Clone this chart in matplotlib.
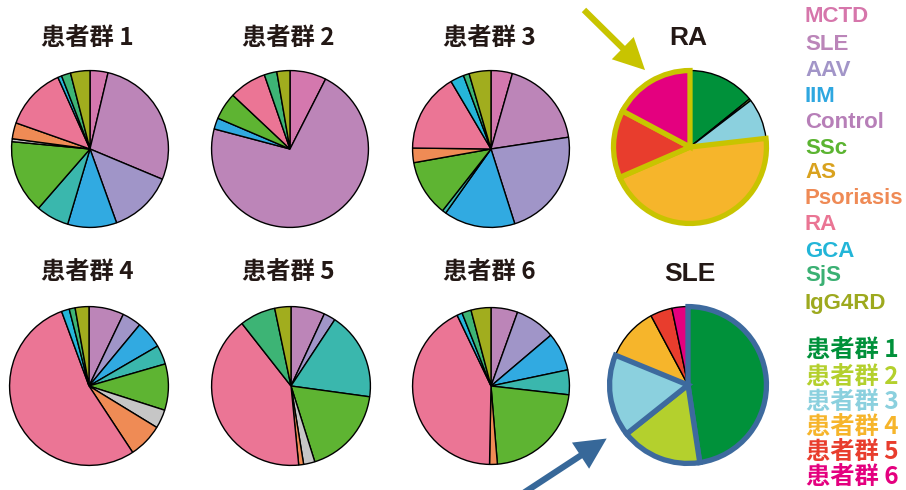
import matplotlib
matplotlib.use("Agg")
import matplotlib.pyplot as plt
from matplotlib import font_manager
from matplotlib.patches import FancyArrowPatch

# diseases, clockwise from 12 o'clock
cats = ['MCTD', 'SLE', 'AAV', 'IIM', 'Control', 'SSc', 'AS', 'Psoriasis', 'RA', 'GCA', 'SjS', 'IgG4RD']
g1 = [3.7, 27.6, 13.2, 10.1, 6.8, 15.1, 0.6, 3.3, 12.9, 0.8, 1.9, 4.0]
g2 = [7.5, 71.7, 0, 2.3, 0, 5.6, 0, 0, 7.7, 0, 2.6, 2.7]
g3 = [4.4, 18.2, 22.5, 14.7, 0.8, 11.6, 0, 3.0, 16.3, 2.8, 1.2, 4.5]
g4 = [0, 7.1, 3.9, 5.6, 3.9, 9.4, 3.8, 7.0, 53.6, 1.6, 1.2, 2.8]
g5 = [0, 6.9, 2.4, 0, 17.9, 18.0, 2.3, 1.0, 41.0, 0, 7.3, 3.3]
g6 = [0, 5.5, 8.3, 7.9, 5.1, 21.9, 0, 1.6, 42.6, 1.1, 1.9, 4.1]

pie_colors = ['#d478ae', '#bc85b8', '#a095c8', '#31aae1', '#3ab7ad', '#5eb432',
              '#c6c6c6', '#ef8b55', '#eb7595', '#25b6d9', '#3db475', '#a1ad1e']
text_colors = ['#d676ab', '#bb85b9', '#a295c8', '#2ea7e0', '#b77fb8', '#5bb431',
               '#d9a21e', '#ef8a55', '#ea7594', '#22b5d8', '#3bb073', '#9da91e']

# patient groups
groups = ['患者群 1', '患者群 2', '患者群 3', '患者群 4', '患者群 5', '患者群 6']
group_colors = ['#00913a', '#b4d02d', '#8bd0de', '#f6b52b', '#e83d2d', '#e4007f']
ra_share = [14.2, 0.4, 8.6, 45.3, 14.3, 17.2]
sle_share = [47.6, 16.7, 16.9, 11.0, 4.5, 3.3]

W, H = 906, 490

names = set(f.name for f in font_manager.fontManager.ttflist)
latin = 'Liberation Sans Narrow' if 'Liberation Sans Narrow' in names else 'Liberation Sans'
cjk = ['Noto Sans CJK JP', 'DejaVu Sans']

fig = plt.figure(figsize=(W / 100, H / 100), dpi=100)


def pie_ax(cx, cy, r):
    ax = fig.add_axes([(cx - r) / W, 1 - (cy + r) / H, 2 * r / W, 2 * r / H])
    return ax


def draw_pie(ax, vals, cols, lw=1.0):
    v = [x for x in vals if x > 0]
    c = [cols[i] for i, x in enumerate(vals) if x > 0]
    wedges, _ = ax.pie(v, colors=c, startangle=90, counterclock=False, radius=1,
                       wedgeprops=dict(edgecolor='black', linewidth=lw))
    ax.set_xlim(-1.02, 1.02)
    ax.set_ylim(-1.02, 1.02)
    ax.set_aspect('equal')
    ax.axis('off')
    return wedges


small = [(g1, 90, 149, 80), (g2, 290, 149, 80), (g3, 491, 149, 80),
         (g4, 89, 386, 81), (g5, 291, 386, 81), (g6, 491, 386, 80)]
for vals, cx, cy, r in small:
    ax = pie_ax(cx, cy, r)
    draw_pie(ax, vals, pie_colors)

# RA pie
ax = pie_ax(690, 147, 78)
w = draw_pie(ax, ra_share, group_colors)
for i in [3, 4, 5]:
    w[i].set_edgecolor('#c8c400')
    w[i].set_linewidth(3.8)
    w[i].set_zorder(3)

# SLE pie
ax = pie_ax(688, 385, 80)
w = draw_pie(ax, sle_share, group_colors)
for i in [0, 1, 2]:
    w[i].set_edgecolor('#3d6a9e')
    w[i].set_linewidth(3.8)
    w[i].set_zorder(3)

# titles
dark = '#231815'
for i, (x, y) in enumerate([(87, 38), (288, 38), (489, 38), (87, 272), (288, 272), (489, 272)]):
    fig.text(x / W, 1 - y / H, groups[i], ha='center', va='center', fontsize=17.5,
             fontweight='bold', color=dark, family=cjk)
fig.text(688 / W, 1 - 38 / H, 'RA', ha='center', va='center', fontsize=19,
         fontweight='bold', color=dark, family=latin)
fig.text(690 / W, 1 - 274 / H, 'SLE', ha='center', va='center', fontsize=19,
         fontweight='bold', color=dark, family=latin)

# disease legend
ys = [17, 44, 71, 97, 122, 149, 173, 199, 224, 251, 276, 303]
for name, col, y in zip(cats, text_colors, ys):
    fig.text(805 / W, 1 - y / H, name, ha='left', va='center', fontsize=16,
             fontweight='bold', color=col, family=latin)

# group legend
gys = [350, 377, 402, 427, 452, 477]
for name, col, y in zip(groups, group_colors, gys):
    fig.text(806 / W, 1 - y / H, name, ha='left', va='center', fontsize=17.5,
             fontweight='bold', color=col, family=cjk)

# arrows
for (x0, y0), (x1, y1), col in [((582, 8), (647, 72), '#c8c400'),
                                ((522, 494), (609, 437), '#376899')]:
    arr = FancyArrowPatch((x0 / W, 1 - y0 / H), (x1 / W, 1 - y1 / H),
                          transform=fig.transFigure,
                          arrowstyle='simple,tail_width=0.3,head_width=1.5,head_length=1.5',
                          mutation_scale=15, color=col, lw=0)
    fig.patches.append(arr)

fig.savefig('out.png', dpi=100)
